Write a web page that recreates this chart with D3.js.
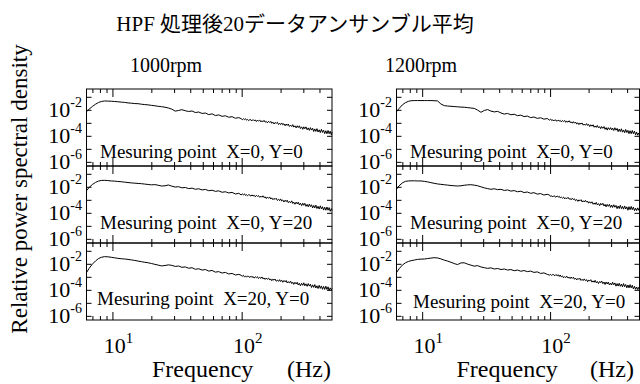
<!DOCTYPE html>
<html>
<head>
<meta charset="utf-8">
<script src="https://cdn.jsdelivr.net/npm/d3@7"></script>
<style>
  body { margin: 0; background: #fff; }
  svg { display: block; }
  text { font-family: "Liberation Serif", "Times New Roman", serif; fill: #000; }
  .jp { font-family: "Liberation Serif", "Noto Sans CJK JP", serif; }
</style>
</head>
<body>
<svg width="640" height="384"></svg>
<script>
// frequency grid (Hz)
const freq = [
  6.3, 6.6, 7.0, 7.4, 7.8, 8.2, 8.7, 9.2, 9.8, 10.4,
  11.0, 11.7, 12.4, 13.2, 14.0, 14.9, 15.8, 16.8, 17.8, 18.9,
  20.1, 21.3, 22.6, 24.0, 25.5, 27.1, 28.8, 30.6, 32.5, 34.5,
  36.6, 38.9, 41.3, 43.8, 46.5, 49.4, 52.4, 55.6, 59.0, 62.6,
  66.4, 70.5, 74.8, 79.4, 84.3, 89.5, 95.0,
  99, 101, 103, 105, 107, 109, 111, 113.5, 116, 118,
  120, 122.5, 125, 127.5, 130, 132.5, 135, 138, 141, 143.5,
  146, 149, 152, 155, 158, 161.5, 165, 168, 171, 174.5,
  178, 181.5, 185, 189, 193, 196.5, 200, 204, 208, 212.5,
  217, 221, 225, 229.5, 234, 239, 244, 248.5, 253, 258.5,
  264, 269, 274, 279.5, 285, 291, 297, 302.5, 308, 314.5,
  321, 327.5, 334, 340.5, 347, 354, 361, 368, 375, 382.5,
  390, 398, 406, 414, 422, 430.5, 439, 448, 457, 466,
  475, 484.5, 494, 500
];

// log10 of relative PSD
const rpm1000_x0y0 = [
  -2.15,-1.95,-1.74,-1.57,-1.44,-1.36,-1.32,-1.33,-1.34,-1.36,
  -1.38,-1.41,-1.43,-1.47,-1.49,-1.52,-1.53,-1.57,-1.60,-1.62,
  -1.66,-1.69,-1.73,-1.76,-1.80,-1.86,-1.95,-2.10,-2.05,-1.99,
  -2.07,-2.13,-2.09,-2.21,-2.17,-2.28,-2.25,-2.37,-2.31,-2.44,
  -2.39,-2.50,-2.46,-2.57,-2.53,-2.65,-2.60,
  -2.68,-2.76,-2.68,-2.76,-2.68,-2.80,-2.74,-2.83,-2.74,-2.78,
  -2.85,-2.75,-2.84,-2.78,-2.90,-2.79,-2.87,-2.79,-2.93,-2.84,
  -2.92,-2.81,-2.95,-2.89,-3.00,-2.88,-2.98,-2.89,-3.04,-2.95,
  -3.09,-2.97,-3.05,-2.96,-3.13,-3.04,-3.14,-3.01,-3.15,-3.07,
  -3.23,-3.09,-3.20,-3.09,-3.28,-3.18,-3.29,-3.14,-3.33,-3.23,
  -3.39,-3.23,-3.36,-3.23,-3.44,-3.31,-3.50,-3.31,-3.46,-3.31,
  -3.54,-3.39,-3.58,-3.37,-3.56,-3.42,-3.67,-3.47,-3.66,-3.45,
  -3.71,-3.54,-3.75,-3.50,-3.74,-3.57,-3.83,-3.61,-3.84,-3.59,
  -3.84,-3.64,-3.92,-3.72
];
const rpm1000_x0y20 = [
  -2.30,-2.05,-1.82,-1.66,-1.56,-1.51,-1.50,-1.52,-1.55,-1.56,
  -1.59,-1.61,-1.64,-1.67,-1.70,-1.72,-1.74,-1.76,-1.79,-1.82,
  -1.85,-1.83,-1.88,-1.94,-1.92,-1.86,-1.95,-2.02,-1.99,-2.08,
  -2.05,-2.14,-2.10,-2.19,-2.15,-2.24,-2.20,-2.30,-2.26,-2.35,
  -2.31,-2.42,-2.38,-2.47,-2.43,-2.55,-2.50,
  -2.62,-2.54,-2.62,-2.54,-2.66,-2.60,-2.69,-2.60,-2.65,-2.72,
  -2.62,-2.71,-2.65,-2.77,-2.66,-2.74,-2.67,-2.81,-2.72,-2.80,
  -2.69,-2.83,-2.77,-2.90,-2.78,-2.88,-2.79,-2.94,-2.85,-2.99,
  -2.89,-2.97,-2.88,-3.05,-2.96,-3.06,-2.93,-3.09,-3.01,-3.17,
  -3.03,-3.14,-3.03,-3.22,-3.12,-3.23,-3.08,-3.28,-3.18,-3.34,
  -3.18,-3.31,-3.18,-3.39,-3.26,-3.45,-3.26,-3.42,-3.27,-3.50,
  -3.35,-3.54,-3.33,-3.52,-3.38,-3.63,-3.43,-3.62,-3.41,-3.67,
  -3.50,-3.71,-3.46,-3.70,-3.53,-3.79,-3.57,-3.80,-3.55,-3.80,
  -3.60,-3.88,-3.68,-3.81
];
const rpm1000_x20y0 = [
  -2.68,-2.35,-2.02,-1.78,-1.60,-1.50,-1.45,-1.46,-1.50,-1.54,
  -1.58,-1.61,-1.63,-1.66,-1.70,-1.74,-1.79,-1.84,-1.88,-1.92,
  -1.98,-2.04,-2.10,-2.16,-2.13,-2.08,-2.12,-2.20,-2.17,-2.27,
  -2.24,-2.34,-2.30,-2.42,-2.38,-2.48,-2.44,-2.56,-2.51,-2.64,
  -2.60,-2.71,-2.66,-2.78,-2.74,-2.86,-2.81,
  -2.88,-2.96,-2.88,-3.00,-2.94,-3.03,-2.94,-2.98,-3.05,-2.95,
  -3.04,-2.98,-3.10,-2.99,-3.07,-2.99,-3.13,-3.04,-3.12,-3.01,
  -3.15,-3.09,-3.20,-3.09,-3.19,-3.10,-3.25,-3.16,-3.30,-3.18,
  -3.26,-3.17,-3.34,-3.25,-3.35,-3.22,-3.36,-3.26,-3.42,-3.28,
  -3.39,-3.28,-3.47,-3.37,-3.48,-3.33,-3.52,-3.42,-3.58,-3.42,
  -3.55,-3.42,-3.63,-3.50,-3.69,-3.50,-3.65,-3.46,-3.69,-3.54,
  -3.73,-3.52,-3.71,-3.57,-3.82,-3.62,-3.81,-3.60,-3.86,-3.69,
  -3.90,-3.65,-3.89,-3.70,-3.96,-3.74,-3.97,-3.72,-3.97,-3.77,
  -4.05,-3.85,-4.00,-3.90
];
const rpm1200_x0y0 = [
  -2.15,-1.90,-1.62,-1.45,-1.35,-1.30,-1.29,-1.29,-1.29,-1.29,
  -1.29,-1.29,-1.30,-1.32,-1.55,-1.68,-1.71,-1.73,-1.75,-1.77,
  -1.79,-1.80,-1.83,-1.86,-1.89,-2.02,-2.19,-2.05,-1.98,-2.10,
  -2.16,-2.12,-2.24,-2.33,-2.28,-2.38,-2.34,-2.45,-2.41,-2.52,
  -2.48,-2.60,-2.55,-2.66,-2.61,-2.72,-2.67,
  -2.79,-2.71,-2.83,-2.77,-2.86,-2.77,-2.81,-2.88,-2.78,-2.87,
  -2.81,-2.93,-2.82,-2.90,-2.82,-2.96,-2.87,-2.95,-2.84,-2.98,
  -2.92,-3.03,-2.91,-3.03,-2.94,-3.09,-3.00,-3.14,-3.02,-3.10,
  -3.01,-3.18,-3.09,-3.19,-3.06,-3.20,-3.12,-3.29,-3.15,-3.26,
  -3.15,-3.34,-3.24,-3.35,-3.20,-3.39,-3.29,-3.45,-3.29,-3.42,
  -3.29,-3.50,-3.37,-3.56,-3.37,-3.52,-3.37,-3.55,-3.40,-3.59,
  -3.38,-3.57,-3.43,-3.68,-3.48,-3.67,-3.46,-3.72,-3.55,-3.76,
  -3.51,-3.75,-3.58,-3.83,-3.61,-3.84,-3.59,-3.84,-3.64,-3.92,
  -3.72,-3.95,-3.78,-3.88
];
const rpm1200_x0y20 = [
  -2.19,-1.92,-1.70,-1.58,-1.55,-1.54,-1.54,-1.55,-1.55,-1.58,
  -1.62,-1.68,-1.73,-1.78,-1.81,-1.84,-1.87,-1.90,-1.92,-1.94,
  -1.92,-1.88,-1.85,-1.84,-1.87,-1.92,-2.00,-2.08,-2.14,-2.19,
  -2.15,-2.22,-2.19,-2.28,-2.24,-2.33,-2.29,-2.38,-2.34,-2.44,
  -2.40,-2.50,-2.45,-2.56,-2.52,-2.63,-2.58,
  -2.63,-2.75,-2.69,-2.78,-2.69,-2.73,-2.80,-2.70,-2.79,-2.73,
  -2.85,-2.79,-2.87,-2.79,-2.93,-2.84,-2.92,-2.81,-2.95,-2.89,
  -3.00,-2.88,-2.98,-2.92,-3.07,-2.98,-3.12,-3.00,-3.08,-2.99,
  -3.16,-3.07,-3.17,-3.04,-3.18,-3.10,-3.26,-3.15,-3.26,-3.15,
  -3.34,-3.24,-3.35,-3.20,-3.39,-3.29,-3.45,-3.27,-3.40,-3.27,
  -3.48,-3.35,-3.54,-3.35,-3.50,-3.35,-3.58,-3.40,-3.59,-3.38,
  -3.57,-3.43,-3.68,-3.48,-3.67,-3.42,-3.68,-3.51,-3.72,-3.47,
  -3.71,-3.54,-3.80,-3.53,-3.76,-3.51,-3.76,-3.56,-3.84,-3.64,
  -3.83,-3.62,-3.80,-3.74
];
const rpm1200_x20y0 = [
  -2.68,-2.38,-2.10,-1.92,-1.82,-1.76,-1.71,-1.66,-1.64,-1.63,
  -1.60,-1.56,-1.53,-1.55,-1.62,-1.72,-1.79,-1.88,-1.98,-2.06,
  -1.93,-1.92,-2.02,-2.10,-2.18,-2.14,-2.24,-2.30,-2.35,-2.31,
  -2.40,-2.36,-2.44,-2.40,-2.48,-2.44,-2.53,-2.48,-2.57,-2.52,
  -2.60,-2.56,-2.66,-2.62,-2.74,-2.70,-2.81,
  -2.87,-2.81,-2.90,-2.81,-2.85,-2.92,-2.82,-2.91,-2.85,-2.97,
  -2.86,-3.01,-2.93,-3.07,-2.98,-3.06,-2.95,-3.09,-3.03,-3.14,
  -3.02,-3.12,-3.03,-3.19,-3.10,-3.24,-3.12,-3.20,-3.11,-3.28,
  -3.19,-3.29,-3.16,-3.30,-3.22,-3.38,-3.24,-3.33,-3.22,-3.41,
  -3.31,-3.42,-3.27,-3.46,-3.36,-3.52,-3.36,-3.45,-3.32,-3.53,
  -3.40,-3.59,-3.40,-3.55,-3.40,-3.63,-3.48,-3.63,-3.42,-3.61,
  -3.47,-3.72,-3.52,-3.71,-3.50,-3.73,-3.56,-3.77,-3.52,-3.76,
  -3.59,-3.85,-3.63,-3.85,-3.60,-3.85,-3.65,-3.93,-3.73,-3.96,
  -3.78,-3.98,-3.80,-3.90
];

const speeds = ["1000rpm", "1200rpm"];
const pointLabels = ["X=0, Y=0", "X=0, Y=20", "X=20, Y=0"];
const xMajorTicks = [10, 100];
const xMinorTicks = [7, 8, 9, 20, 30, 40, 50, 60, 70, 80, 90, 200, 300, 400];
const yTicks = [1e-1, 1e-2, 1e-3, 1e-4, 1e-5, 1e-6];
const yLabelExps = [-2, -4, -6];
const xLabelExps = [1, 2];

const series = [
  [rpm1000_x0y0, rpm1000_x0y20, rpm1000_x20y0],
  [rpm1200_x0y0, rpm1200_x0y20, rpm1200_x20y0]
];

const svg = d3.select("svg");
const cols = [{ x0: 86.5, x1: 332 }, { x0: 396.5, x1: 639.5 }];
const top0 = 89, panelH = 77;

// title
svg.append("text").attr("class", "jp").attr("x", 295).attr("y", 31).attr("text-anchor", "middle")
  .style("font-size", "21px").text("HPF 処理後20データアンサンブル平均");

// y axis title
svg.append("text")
  .attr("transform", "translate(27,189) rotate(-90)")
  .attr("text-anchor", "middle").style("font-size", "23px")
  .text("Relative power spectral density");

const speedX = [166, 421];
const annX = [[100, 100, 97], [410, 410, 413]];

cols.forEach(function (c, ci) {
  const x = d3.scaleLog().domain([6.3, 500]).range([c.x0, c.x1]);

  svg.append("text").attr("x", speedX[ci]).attr("y", 72).attr("text-anchor", "middle")
    .style("font-size", "20px").text(speeds[ci]);

  for (let r = 0; r < 3; r++) {
    const t = top0 + r * panelH, b = t + panelH;
    const y = d3.scaleLog().domain([Math.pow(10, -6.32), Math.pow(10, -0.4)]).range([b, t]);
    const g = svg.append("g");

    // ticks, all pointing into the panel
    const addAxis = function (axis, tx, ty) {
      const a = g.append("g").attr("transform", "translate(" + tx + "," + ty + ")").call(axis);
      a.select(".domain").remove();
      a.selectAll("text").remove();
      a.selectAll("line").attr("stroke", "#000").attr("stroke-width", 1);
    };
    addAxis(d3.axisTop(x).tickValues(xMinorTicks).tickSize(-4), 0, t);
    addAxis(d3.axisTop(x).tickValues(xMajorTicks).tickSize(-8), 0, t);
    addAxis(d3.axisBottom(x).tickValues(xMinorTicks).tickSize(-4), 0, b);
    addAxis(d3.axisBottom(x).tickValues(xMajorTicks).tickSize(-8), 0, b);
    addAxis(d3.axisLeft(y).tickValues(yTicks).tickSize(-5), c.x0, 0);
    addAxis(d3.axisRight(y).tickValues(yTicks).tickSize(-5), c.x1, 0);

    g.append("rect").attr("x", c.x0).attr("y", t).attr("width", c.x1 - c.x0).attr("height", panelH)
      .attr("fill", "none").attr("stroke", "#000").attr("stroke-width", 1);

    // y labels
    yLabelExps.forEach(function (e) {
      const tx = g.append("text").attr("x", c.x0 - 4.5).attr("y", y(Math.pow(10, e)) + 7.5)
        .attr("text-anchor", "end").style("font-size", "22px");
      tx.append("tspan").text("10");
      tx.append("tspan").attr("dy", -10).style("font-size", "14px").text(String(e));
    });

    // curve
    const vals = series[ci][r];
    const line = d3.line()
      .x(function (d, i) { return x(freq[i]); })
      .y(function (d) { return y(Math.pow(10, d)); });
    g.append("path").datum(vals).attr("d", line)
      .attr("fill", "none").attr("stroke", "#000").attr("stroke-width", 1)
      .attr("stroke-linejoin", "round");

    const annY = [158, 229, 305][r] + (ci === 1 && r === 2 ? 3 : 0);
    g.append("text").attr("x", annX[ci][r]).attr("y", annY)
      .style("font-size", "19px").style("white-space", "pre")
      .text("Mesuring point  " + pointLabels[r]);
  }

  // x tick labels
  xMajorTicks.forEach(function (v, i) {
    const tx = svg.append("text").attr("x", x(v) + 6).attr("y", 353)
      .attr("text-anchor", "middle").style("font-size", "22px");
    tx.append("tspan").text("10");
    tx.append("tspan").attr("dy", -10).style("font-size", "15px").text(String(xLabelExps[i]));
  });

  svg.append("text").attr("x", c.x0 + (ci === 0 ? 65.5 : 60)).attr("y", 377)
    .style("font-size", "24px").text("Frequency");
  svg.append("text").attr("x", c.x0 + (ci === 0 ? 200.5 : 193.5)).attr("y", 377)
    .style("font-size", "24px").text("(Hz)");
});
</script>
</body>
</html>
